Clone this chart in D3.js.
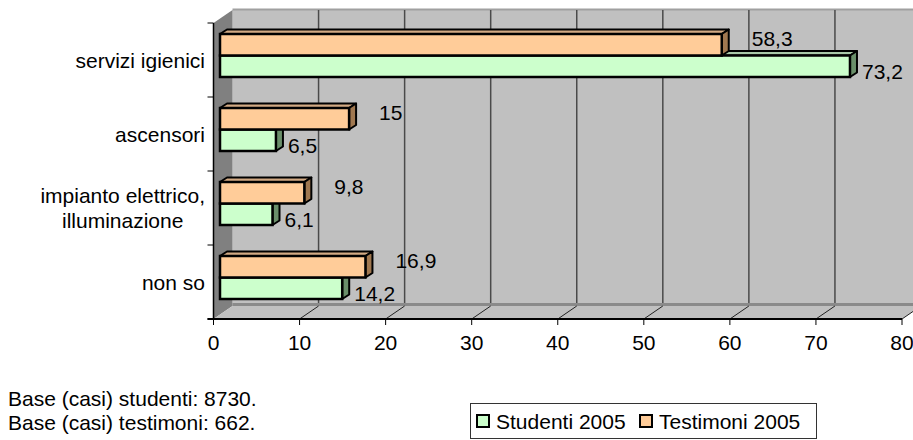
<!DOCTYPE html>
<html>
<head>
<meta charset="utf-8">
<script src="https://cdn.jsdelivr.net/npm/d3@7/dist/d3.min.js"></script>
<style>
  html, body { margin: 0; padding: 0; background: #fff; }
  svg { display: block; font-family: "Liberation Sans", Arial, sans-serif; }
</style>
</head>
<body>
<svg id="chart" width="913" height="440"></svg>
<script>
const categories = ["servizi igienici", "ascensori", "impianto elettrico,\nilluminazione", "non so"];
const studenti = [73.2, 6.5, 6.1, 14.2];
const testimoni = [58.3, 15, 9.8, 16.9];
const xTicks = [0, 10, 20, 30, 40, 50, 60, 70, 80];
const seriesNames = ["Studenti 2005", "Testimoni 2005"];
const notes = ["Base (casi) studenti: 8730.", "Base (casi) testimoni: 662."];

const svg = d3.select("#chart");
const FS = 21;
const DX = 19, DY = -13;          // depth of the 3D plot box
const BFX = 6.5, BFY = -4.5;      // bar front face offset from front plane
const BDX = 7, BDY = -4.5;        // bar depth
const barH = 21.5;

const x = d3.scaleLinear().domain([0, 80]).range([213.5, 902]);
const y = d3.scaleBand().domain(categories).range([23, 319]);
const x0 = x(0), yTop = y.range()[0], yBot = y.range()[1];

const fmt = v => String(v).replace(".", ",");

// back wall
svg.append("rect")
  .attr("x", x0 + DX).attr("y", yTop + DY)
  .attr("width", x(80) - x0).attr("height", yBot - yTop)
  .attr("fill", "#c0c0c0");
svg.append("line")
  .attr("x1", x0 + DX).attr("x2", x(80) + DX)
  .attr("y1", yTop + DY - 0.5).attr("y2", yTop + DY - 0.5)
  .attr("stroke", "#a0a0a0").attr("stroke-width", 2);

// gridlines on back wall
svg.append("g").selectAll("line").data(xTicks.filter(t => t > 0 && t < 80)).join("line")
  .attr("x1", d => x(d) + DX).attr("x2", d => x(d) + DX)
  .attr("y1", yTop + DY).attr("y2", yBot + DY)
  .attr("stroke", "#4a4a4a").attr("stroke-width", 1.5);

// side wall
svg.append("path")
  .attr("d", `M${x0},${yTop} L${x0 + DX},${yTop + DY} L${x0 + DX},${yBot + DY} L${x0},${yBot} Z`)
  .attr("fill", "#808080");

// floor
svg.append("path")
  .attr("d", `M${x0},${yBot} L${x(80)},${yBot} L${x(80) + DX},${yBot + DY} L${x0 + DX},${yBot + DY} Z`)
  .attr("fill", "#c0c0c0");
svg.append("line")
  .attr("x1", x0 + DX).attr("x2", x(80) + DX)
  .attr("y1", yBot + DY - 1.5).attr("y2", yBot + DY - 1.5)
  .attr("stroke", "#8a8a8a").attr("stroke-width", 3);
svg.append("g").selectAll("line").data(xTicks.filter(t => t > 0)).join("line")
  .attr("x1", d => x(d)).attr("x2", d => x(d) + DX)
  .attr("y1", yBot).attr("y2", yBot + DY)
  .attr("stroke", "#222").attr("stroke-width", 1);

// bars
function bar3d(g, v, top, front, side, topCol) {
  const xa = x0 + BFX, xb = x(v) + BFX;
  const ya = top, yb = top + barH;
  g.append("path")
    .attr("d", `M${xa},${ya} L${xa + BDX},${ya + BDY} L${xb + BDX},${ya + BDY} L${xb},${ya} Z`)
    .attr("fill", topCol).attr("stroke", "#000").attr("stroke-width", 2).attr("stroke-linejoin", "round");
  g.append("path")
    .attr("d", `M${xb},${ya} L${xb + BDX},${ya + BDY} L${xb + BDX},${yb + BDY} L${xb},${yb} Z`)
    .attr("fill", side).attr("stroke", "#000").attr("stroke-width", 2).attr("stroke-linejoin", "round");
  g.append("rect")
    .attr("x", xa).attr("y", ya).attr("width", xb - xa).attr("height", barH)
    .attr("fill", front).attr("stroke", "#000").attr("stroke-width", 2.5);
}

const barsG = svg.append("g");
categories.forEach((c, i) => {
  const yc = y(c) + y.bandwidth() / 2 + BFY;
  const g = barsG.append("g");
  bar3d(g, studenti[i], yc, "#ccffcc", "#6a8f6a", "#a8c8a8");
  bar3d(g, testimoni[i], yc - barH, "#ffcc99", "#a07850", "#d2aa84");
});

// value labels
const labG = svg.append("g").attr("font-size", FS).attr("fill", "#000");
categories.forEach((c, i) => {
  const yc = y(c) + y.bandwidth() / 2 + BFY;
  labG.append("text")
    .attr("x", x(testimoni[i]) + BFX + 30)
    .attr("y", yc - barH / 2 - 6).attr("dy", "0.36em")
    .text(fmt(testimoni[i]));
  labG.append("text")
    .attr("x", x(studenti[i]) + BFX + 12)
    .attr("y", yc + barH / 2 + 5).attr("dy", "0.36em")
    .text(fmt(studenti[i]));
});

// axes
const axG = svg.append("g").attr("stroke", "#000");
axG.append("line").attr("x1", x0).attr("x2", x0).attr("y1", yTop).attr("y2", yBot).attr("stroke-width", 1.5);
axG.append("line").attr("x1", x0 - 6).attr("x2", x(80)).attr("y1", yBot).attr("y2", yBot).attr("stroke-width", 2);
const yTickPos = categories.map(c => y(c)).concat([yBot]);
axG.selectAll(".yt").data(yTickPos).join("line")
  .attr("x1", x0 - 6).attr("x2", x0).attr("y1", d => d).attr("y2", d => d).attr("stroke-width", 1);
axG.selectAll(".xt").data(xTicks).join("line")
  .attr("x1", d => x(d)).attr("x2", d => x(d)).attr("y1", yBot).attr("y2", yBot + 6).attr("stroke-width", 1);

svg.append("g").attr("font-size", FS).attr("text-anchor", "middle")
  .selectAll("text").data(xTicks).join("text")
  .attr("x", d => x(d)).attr("y", 350).text(d => d);

// category labels
const catG = svg.append("g").attr("font-size", FS);
categories.forEach(c => {
  const lines = c.split("\n");
  const yc = y(c) + y.bandwidth() / 2;
  const lh = 25;
  const g = catG.append("g");
  const texts = lines.map((l, k) => g.append("text")
    .attr("y", yc + (k - (lines.length - 1) / 2) * lh).attr("dy", "0.36em").text(l));
  const widths = texts.map(t => t.node().getComputedTextLength());
  const maxW = d3.max(widths);
  const right = 205;
  texts.forEach(t => t.attr("text-anchor", "middle").attr("x", right - maxW / 2));
});

// notes
svg.append("g").attr("font-size", FS).selectAll("text").data(notes).join("text")
  .attr("x", 8).attr("y", (d, i) => 406 + i * 24).text(d => d);

// legend
const lg = svg.append("g");
lg.append("rect").attr("x", 470.5).attr("y", 403.5).attr("width", 346).attr("height", 35)
  .attr("fill", "#fff").attr("stroke", "#333").attr("stroke-width", 1);
const legX = [477, 640];
const legCols = ["#ccffcc", "#ffcc99"];
seriesNames.forEach((n, i) => {
  lg.append("rect").attr("x", legX[i]).attr("y", 415).attr("width", 12).attr("height", 12)
    .attr("fill", legCols[i]).attr("stroke", "#000").attr("stroke-width", 2);
  lg.append("text").attr("x", legX[i] + 19).attr("y", 428.5).attr("font-size", FS).text(n);
});
</script>
</body>
</html>
